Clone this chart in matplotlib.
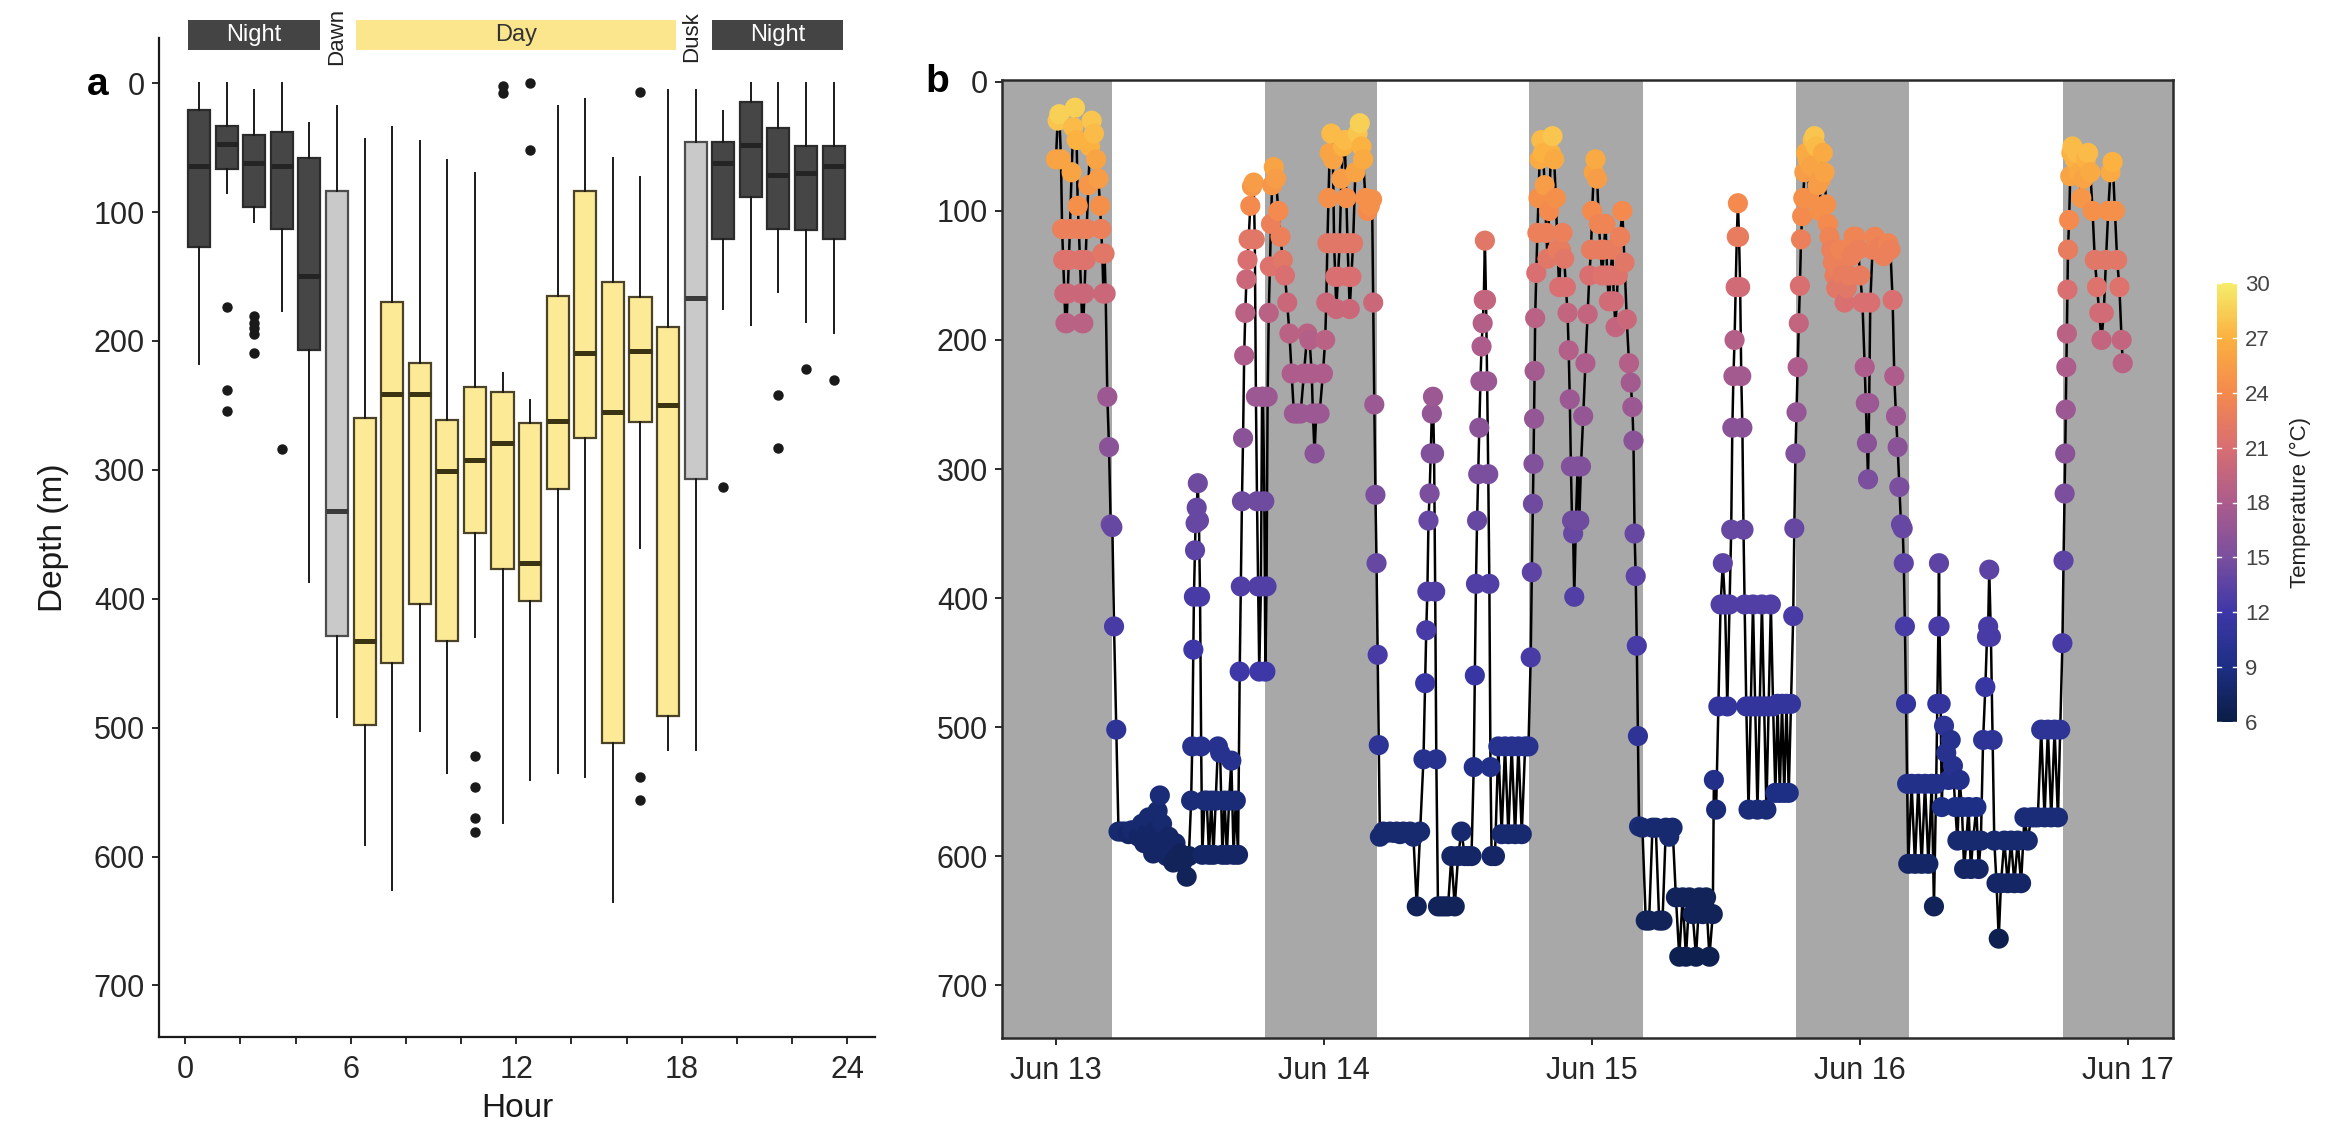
import numpy as np
import matplotlib
matplotlib.use("Agg")
import matplotlib.pyplot as plt
from matplotlib.colors import LinearSegmentedColormap, Normalize
from matplotlib.patches import Rectangle

plt.rcParams['font.family'] = ['Liberation Sans', 'DejaVu Sans']

# ---------------- Panel a data (depth by hour of day, boxplot stats) ----------------
hour_of_day = list(range(24))
period = ['Night'] * 5 + ['Dawn'] + ['Day'] * 12 + ['Dusk'] + ['Night'] * 5
whisker_top = [0, 0, 5, 0, 31, 18, 43, 34, 45, 60, 70, 225, 246, 18, 12, 58, 73, 5, 5, 22, 0, 0, 0, 0]
box_top = [21, 33, 40, 38, 58, 84, 260, 170, 217, 261, 236, 240, 264, 165, 84, 154, 166, 189, 46, 46, 15, 35, 49, 49]
median = [64, 47, 62, 64, 150, 332, 433, 241, 241, 301, 292, 279, 372, 262, 209, 255, 208, 250, 167, 62, 48, 71, 70, 64]
box_bottom = [127, 67, 96, 113, 207, 429, 498, 450, 404, 433, 349, 377, 402, 315, 275, 512, 263, 491, 307, 121, 88, 113, 114, 121]
whisker_bottom = [218, 85, 108, 177, 387, 492, 591, 626, 503, 535, 430, 574, 541, 535, 538, 635, 361, 517, 517, 175, 188, 162, 185, 194]
outliers = {1: [174, 238, 254], 2: [181, 186, 190, 195, 209], 3: [284],
            10: [522, 546, 570, 581], 11: [2, 8], 12: [0, 52],
            16: [7, 538, 556], 19: [313], 21: [242, 283], 22: [222], 23: [230]}
strip_labels = ['Night', 'Dawn', 'Day', 'Dusk', 'Night']

# ---------------- Panel b data (time series, hours since Jun 13 00:00) ----------------
time_h = [
    0.0, 0.15, 0.3, 0.45, 0.55, 0.65, 0.75, 0.85, 0.95, 1.05, 1.15, 1.25, 1.4, 1.55, 1.7, 1.85, 1.95, 2.05, 2.15, 2.25,
    2.35, 2.45, 2.55, 2.65, 2.75, 2.9, 3.05, 3.2, 3.4, 3.6, 3.8, 3.95, 4.05, 4.15, 4.25, 4.35, 4.45, 4.6, 4.75, 4.9,
    5.05, 5.2, 5.4, 5.6,
    5.9, 6.2, 6.5, 6.8, 7.1, 7.4, 7.7, 7.9, 8.1, 8.3, 8.5, 8.7, 8.9, 9.1, 9.3, 9.5, 9.7, 9.9, 10.1, 10.3,
    10.5, 10.7, 10.9, 11.1, 11.3, 11.5, 11.7, 11.9,
    12.1, 12.2, 12.3, 12.35, 12.45, 12.5, 12.6, 12.7, 12.8, 12.9, 13.0, 13.1,
    13.3, 13.5, 13.7, 13.9, 14.1, 14.3, 14.5, 14.7, 14.9, 15.1, 15.3, 15.5, 15.7, 15.9, 16.1, 16.3,
    16.45, 16.55, 16.65, 16.75, 16.85, 16.95, 17.05, 17.15, 17.25, 17.4, 17.55, 17.7, 17.8, 17.9, 18.0, 18.1, 18.2, 18.35, 18.45, 18.55,
    18.65, 18.75, 18.85, 18.95, 19.05, 19.15, 19.25, 19.35, 19.5,
    19.7, 19.9, 20.1, 20.3, 20.5, 20.7, 20.9, 21.1, 21.3, 21.6, 21.9, 22.2, 22.5, 22.7, 22.9, 23.0, 23.15, 23.3, 23.6, 23.9,
    24.1, 24.2,
    24.3, 24.4, 24.5, 24.65, 24.8, 24.9, 25.0, 25.1, 25.25, 25.4, 25.55, 25.7, 25.85, 26.0, 26.1, 26.2, 26.3, 26.45, 26.6, 26.8,
    27.0, 27.2, 27.35, 27.5, 27.7, 27.9, 28.1, 28.3, 28.4, 28.5, 28.6, 28.7, 28.8, 28.9, 29.0,
    29.3, 29.6, 29.9, 30.2, 30.5, 30.8, 31.1, 31.4, 31.7, 32.0, 32.3, 32.6,
    32.9, 33.05, 33.15, 33.25, 33.35, 33.45, 33.55, 33.65, 33.75, 33.85, 33.95, 34.05, 34.2,
    34.5, 34.8, 35.1, 35.4, 35.7, 36.0, 36.3, 36.6, 36.9, 37.2,
    37.4, 37.5, 37.6, 37.7, 37.8, 37.9, 38.0, 38.1, 38.2, 38.3, 38.4, 38.5, 38.6, 38.7, 38.8, 38.9, 39.0,
    39.3, 39.6, 39.9, 40.2, 40.5, 40.8, 41.1, 41.4, 41.7, 42.0, 42.3,
    42.5, 42.6, 42.7, 42.75, 42.8, 42.85, 42.9, 43.0, 43.1, 43.2, 43.3, 43.45, 43.6, 43.75, 43.9, 44.0, 44.15, 44.3, 44.45, 44.6,
    44.75, 44.9, 45.05, 45.2, 45.35, 45.5, 45.65, 45.8, 45.9, 46.0, 46.1, 46.2, 46.3, 46.4, 46.55, 46.7, 46.85, 47.0, 47.2, 47.4,
    47.6, 47.75, 47.9, 48.0, 48.15, 48.3, 48.45, 48.6, 48.75, 48.9, 49.05, 49.2, 49.35, 49.5, 49.65, 49.8, 49.95, 50.1, 50.3, 50.5,
    50.7, 50.9, 51.1, 51.3, 51.45, 51.6, 51.7, 51.8, 51.9, 52.0, 52.1, 52.2,
    52.5, 52.8, 53.1, 53.4, 53.7, 54.0, 54.3, 54.6, 54.9, 55.2, 55.5, 55.8, 56.1, 56.4, 56.7, 57.0, 57.3, 57.6, 57.9, 58.2,
    58.5, 58.8,
    58.9, 59.1, 59.3, 59.5, 59.7, 59.9, 60.1, 60.3, 60.45, 60.55, 60.65, 60.75, 60.85, 60.95, 61.05, 61.15, 61.25, 61.35, 61.45, 61.55,
    61.65, 61.8, 62.0, 62.2, 62.4, 62.6, 62.8, 63.0, 63.2, 63.4, 63.6, 63.8, 64.0, 64.2, 64.4,
    64.6, 64.8, 65.0, 65.2, 65.4, 65.6, 65.8, 66.0, 66.1, 66.2, 66.3, 66.4, 66.5, 66.6, 66.7, 66.8, 66.9, 67.0, 67.15, 67.3,
    67.45, 67.6, 67.75, 67.9, 68.05, 68.2, 68.35, 68.5, 68.65, 68.8, 68.95, 69.1, 69.25, 69.4, 69.55, 69.7, 69.85, 70.0, 70.2, 70.4,
    70.6, 70.8, 71.0, 71.2, 71.4, 71.6, 71.8, 72.0, 72.2, 72.4, 72.5, 72.6, 72.7, 72.8, 72.9, 73.1, 73.3, 73.5, 73.7, 73.9,
    74.1, 74.3, 74.5, 74.7, 74.9, 75.05, 75.2, 75.35, 75.5, 75.65, 75.8, 75.9, 76.0, 76.1, 76.2, 76.3,
    76.6, 76.9, 77.2, 77.5, 77.8, 78.1, 78.4, 78.6, 78.8, 78.9, 79.0, 79.05, 79.1, 79.2, 79.3,
    79.5, 79.7, 79.9, 80.1, 80.3, 80.5, 80.7, 80.9, 81.1, 81.3, 81.5, 81.7, 81.9, 82.1,
    82.4, 82.6, 82.8, 83.0, 83.2, 83.35, 83.45, 83.55, 83.7, 83.85, 84.0, 84.2, 84.4, 84.6, 84.9, 85.2, 85.5, 85.8, 86.1, 86.4,
    86.7, 87.0, 87.3, 87.6, 87.9, 88.2, 88.5, 88.8, 89.1, 89.4, 89.7, 89.9,
    90.1, 90.2, 90.3, 90.35, 90.4, 90.45, 90.5, 90.55, 90.6, 90.7, 90.8, 90.9, 91.0, 91.2, 91.4, 91.6, 91.8, 92.0, 92.2, 92.4,
    92.6, 92.8, 93.0, 93.2, 93.4, 93.6, 93.8, 94.0, 94.2, 94.4, 94.6, 94.8, 95.0, 95.2, 95.4, 95.5,
]
depth_m = [
    60, 30, 25, 60, 114, 138, 164, 187, 187, 164, 138, 114, 70, 35, 20, 45, 96, 114, 138, 164,
    187, 187, 164, 138, 114, 80, 50, 30, 40, 60, 75, 96, 114, 133, 164, 133, 164, 244, 283, 343,
    345, 422, 502, 581,
    581, 581, 583, 580, 581, 585, 575, 590, 583, 570, 590, 598, 580, 565, 553, 575, 590, 600, 585, 595,
    605, 590, 600, 598, 605, 600, 616, 600,
    557, 515, 440, 399, 363, 342, 330, 311, 340, 399, 515, 599,
    557, 557, 599, 557, 599, 557, 515, 520, 599, 557, 599, 557, 526, 599, 557, 599,
    457, 391, 325, 276, 212, 179, 153, 138, 122, 96, 81, 78, 122, 244, 325, 391, 457, 391, 244, 244,
    325, 457, 391, 244, 179, 143, 110, 80, 66,
    75, 100, 120, 138, 150, 171, 195, 226, 257, 257, 257, 226, 195, 200, 226, 257, 288, 257, 257, 226,
    200, 171,
    125, 90, 55, 40, 60, 125, 151, 176, 151, 125, 75, 50, 45, 90, 125, 151, 176, 151, 125, 70,
    40, 32, 50, 60, 90, 100, 96, 91, 171, 250, 320, 373, 444, 514, 585,
    581, 582, 581, 582, 581, 583, 581, 582, 581, 585, 639, 581,
    525, 466, 425, 395, 340, 319, 288, 257, 244, 288, 395, 525, 639,
    639, 639, 639, 600, 639, 600, 581, 600, 600, 600,
    531, 460, 389, 340, 304, 268, 232, 205, 187, 169, 123, 169, 232, 304, 389, 531, 600,
    600, 515, 583, 515, 583, 515, 583, 515, 583, 515, 515,
    446, 380, 327, 296, 261, 224, 183, 148, 117, 90, 60, 45, 55, 80, 117, 137, 100, 55, 42, 60,
    90, 130, 159, 130, 117, 137, 159, 179, 208, 246, 298, 340, 350, 399, 340, 298, 340, 298, 259, 218,
    180, 150, 130, 100, 70, 60, 75, 110, 130, 150, 130, 110, 150, 170, 150, 130, 170, 190, 150, 120,
    100, 140, 184, 218, 233, 252, 278, 350, 383, 437, 507, 577,
    578, 650, 650, 578, 578, 650, 650, 578, 585, 578, 632, 678, 632, 678, 632, 645, 678, 632, 645, 632,
    678, 645,
    541, 564, 484, 405, 373, 405, 484, 405, 347, 268, 228, 200, 159, 120, 94, 120, 159, 228, 268, 347,
    405, 484, 564, 484, 405, 484, 564, 484, 405, 484, 564, 484, 405, 484, 551,
    482, 551, 482, 551, 482, 551, 482, 414, 346, 288, 256, 221, 187, 158, 122, 104, 90, 70, 55, 60,
    90, 65, 45, 42, 50, 80, 100, 75, 55, 70, 95, 110, 120, 130, 140, 150, 160, 145, 130, 150,
    171, 160, 150, 135, 120, 120, 130, 150, 171, 221, 249, 280, 308, 249, 171, 130, 120, 125, 128, 130,
    135, 128, 125, 130, 169, 228, 259, 283, 314, 343, 346, 373, 422, 482, 544, 606,
    544, 606, 544, 606, 544, 606, 544, 639, 544, 482, 422, 373, 422, 482, 562,
    499, 520, 541, 510, 530, 562, 588, 541, 562, 610, 588, 562, 610, 588,
    562, 610, 588, 510, 469, 430, 422, 378, 430, 510, 588, 621, 664, 621, 588, 621, 588, 621, 588, 621,
    570, 588, 570, 570, 570, 502, 570, 502, 570, 502, 570, 502,
    435, 371, 319, 288, 254, 221, 195, 161, 130, 107, 73, 55, 50, 60, 55, 70, 90, 75, 60, 55,
    70, 100, 138, 159, 179, 200, 179, 138, 100, 70, 62, 100, 138, 159, 200, 218,
]
temp_c = [
    26, 28, 28.5, 26, 23, 21.5, 20, 19, 19, 20, 21.5, 23, 26, 27.5, 28.5, 27, 24.5, 23, 21.5, 20,
    19, 19, 20, 21.5, 23, 25, 27, 28, 27.5, 26, 25.5, 24.5, 23, 22, 20, 22, 20, 17, 16, 14.5,
    14, 12.5, 10.5, 8,
    8, 8, 7.5, 8, 8, 7.5, 8, 7.5, 7.5, 8, 7.5, 7.5, 7.5, 8, 8.5, 8, 7.5, 7.5, 7.5, 7.5,
    7, 7.5, 7, 7, 7, 7, 7, 7,
    8.5, 10, 12, 12.5, 13.5, 14, 14, 14.5, 14, 12.5, 10, 7.5,
    8.5, 8.5, 7.5, 8.5, 7.5, 8.5, 10, 10, 7.5, 8.5, 7.5, 8.5, 10, 7.5, 8.5, 7.5,
    12, 13, 14.5, 16, 18, 19, 20, 21, 22, 24, 25, 25.5, 22, 17, 14.5, 13, 12, 13, 17, 17,
    14.5, 12, 13, 17, 19, 21.5, 23, 25, 26,
    25.5, 24, 23, 22, 21, 20, 19, 18, 17, 17, 17, 18, 19, 18.5, 18, 17, 16, 17, 17, 18,
    19, 20,
    22, 24.5, 26, 27.5, 26, 22, 21, 20, 21, 22, 25.5, 27, 27.5, 24.5, 22, 21, 20, 21, 22, 26,
    28, 28.5, 27, 26.5, 24.5, 24, 24.5, 24.5, 20, 17, 15, 14, 12.5, 10.5, 8,
    8, 8, 8, 8, 8, 8, 8, 8, 8, 8, 7, 8,
    10, 11.5, 12.5, 13, 14, 15, 15.5, 16.5, 17, 15.5, 13, 10, 7,
    7, 7, 7, 7.5, 7, 7.5, 8, 7.5, 7.5, 7.5,
    9.5, 11.5, 13, 14, 15, 16, 17, 18, 18.5, 19.5, 22, 19.5, 17, 15, 13, 9.5, 7.5,
    7.5, 10, 8, 10, 8, 10, 8, 10, 8, 10, 10,
    12.5, 13.5, 14.5, 15.5, 16.5, 17.5, 19, 21, 23, 24.5, 26.5, 27.5, 27, 25.5, 23, 22, 24, 27, 28, 26.5,
    24.5, 22.5, 21, 22.5, 23, 22, 21, 19.5, 18.5, 17, 15.5, 14.5, 14, 13, 14.5, 15.5, 14.5, 15.5, 16.5, 18,
    19.5, 21, 22.5, 24, 26, 26.5, 25.5, 23.5, 22.5, 21.5, 22.5, 23.5, 21.5, 20.5, 21.5, 22.5, 20.5, 19.5, 21.5, 23,
    24, 22, 20, 18.5, 17.5, 17, 16, 14, 13.5, 12.5, 10.5, 8.5,
    8, 7, 7, 8, 8, 7, 7, 8, 8, 8, 7, 6.5, 7, 6.5, 7, 7, 6.5, 7, 7, 7,
    6.5, 7,
    9.5, 8.5, 11, 13, 13.5, 13, 11, 13, 14, 16, 17.5, 18.5, 20.5, 22.5, 24, 22.5, 20.5, 17.5, 16, 14,
    13, 11, 8.5, 11, 13, 11, 8.5, 11, 13, 11, 8.5, 11, 13, 11, 9,
    11, 9, 11, 9, 11, 9, 11, 12.5, 14, 15.5, 16.5, 18, 19.5, 21, 23, 24, 24.5, 25.5, 26.5, 26.5,
    24.5, 26, 27.5, 28, 27.5, 25.5, 24.5, 25.5, 26.5, 26, 24.5, 24, 23.5, 23, 23, 22.5, 22, 23, 23.5, 22.5,
    21, 22, 22.5, 23, 23.5, 23.5, 23, 22.5, 21, 18, 17, 16, 15, 17, 21, 23, 23.5, 23.5, 23, 23,
    23, 23, 23.5, 23, 21, 18, 17, 16, 15, 14, 14, 13.5, 12.5, 11, 9.5, 7.5,
    9.5, 7.5, 9.5, 7.5, 9.5, 7.5, 9.5, 7, 9.5, 11, 12.5, 13.5, 12.5, 11, 9,
    10.5, 10, 9.5, 10, 10, 9, 8, 9.5, 9, 7.5, 8, 9, 7.5, 8,
    9, 7.5, 8, 10.5, 11.5, 12.5, 12.5, 13.5, 12.5, 10.5, 8, 7.5, 6.5, 7.5, 8, 7.5, 8, 7.5, 8, 7.5,
    8.5, 8, 8.5, 8.5, 8.5, 10.5, 8.5, 10.5, 8.5, 10.5, 8.5, 10.5,
    12.5, 13.5, 15, 16, 17, 18, 19, 21, 22.5, 24, 26, 27, 27.5, 27, 27.5, 26.5, 25, 26, 27, 27.5,
    26.5, 24.5, 22, 21.5, 20.5, 19.5, 20.5, 22, 24.5, 26.5, 27, 24.5, 22, 21.5, 19.5, 19,
]
# night periods (hours since Jun 13 00:00)
night_start = [-6.0, 18.7, 42.35, 66.25, 90.15]
night_end = [5.0, 28.7, 52.55, 76.4, 102.0]
date_ticks = [0, 24, 48, 72, 96]
date_labels = ['Jun 13', 'Jun 14', 'Jun 15', 'Jun 16', 'Jun 17']
temp_ticks = [6, 9, 12, 15, 18, 21, 24, 27, 30]

assert len(time_h) == len(depth_m) == len(temp_c), (len(time_h), len(depth_m), len(temp_c))

# ---------------- Figure ----------------
W, H = 2339, 1139
fig = plt.figure(figsize=(W / 100, H / 100), dpi=100)


def frac_box(l, t, r, b):
    return [l / W, 1 - b / H, (r - l) / W, (b - t) / H]


ax_a = fig.add_axes(frac_box(159, 38, 875, 1037))
ax_b = fig.add_axes(frac_box(1002, 80, 2173, 1038))
cax = fig.add_axes(frac_box(2217, 283, 2237, 722))

TICK_FS = 22
LAB_FS = 24
TXT = '#262626'

# ---------------- Panel a ----------------
stats = []
for i in hour_of_day:
    stats.append(dict(med=median[i], q1=box_top[i], q3=box_bottom[i],
                      whislo=whisker_top[i], whishi=whisker_bottom[i],
                      fliers=outliers.get(i, [])))
res = ax_a.bxp(stats, positions=np.array(hour_of_day) + 0.5, widths=0.8,
               patch_artist=True, showcaps=False, showfliers=True,
               whiskerprops=dict(linewidth=1.4, color='#1a1a1a'),
               medianprops=dict(linewidth=3.6),
               flierprops=dict(marker='o', markersize=6.5, markerfacecolor='#1a1a1a',
                               markeredgecolor='#1a1a1a', linestyle='none'),
               manage_ticks=False)
fills = {'Night': '#464646', 'Dawn': '#C9C9C9', 'Dusk': '#C9C9C9', 'Day': '#FDEA96'}
edges = {'Night': '#2b2b2b', 'Dawn': '#4d4d4d', 'Dusk': '#4d4d4d', 'Day': '#4a4328'}
meds = {'Night': '#242424', 'Dawn': '#3a3a3a', 'Dusk': '#3a3a3a', 'Day': '#3b3412'}
for box, med, p in zip(res['boxes'], res['medians'], period):
    box.set_facecolor(fills[p])
    box.set_edgecolor(edges[p])
    box.set_linewidth(1.6)
    med.set_color(meds[p])

ax_a.set_xlim(-0.95, 25.0)
ax_a.set_ylim(740, -35)
ax_a.set_xticks(np.arange(0, 25, 2))
ax_a.set_xticklabels([str(h) if h % 6 == 0 else '' for h in range(0, 25, 2)])
ax_a.set_yticks(np.arange(0, 701, 100))
for s in ['top', 'right']:
    ax_a.spines[s].set_visible(False)
for s in ['left', 'bottom']:
    ax_a.spines[s].set_linewidth(1.6)
    ax_a.spines[s].set_color('#1a1a1a')
ax_a.tick_params(labelsize=TICK_FS, length=5, width=1.3, colors='#1a1a1a', labelcolor=TXT, pad=5)
ax_a.tick_params(axis='x', pad=8)
ax_a.set_xlabel('Hour', fontsize=LAB_FS, color='#1a1a1a', labelpad=6)
ax_a.set_ylabel('Depth (m)', fontsize=LAB_FS, color='#1a1a1a', labelpad=18)

# header strips
strip_y0, strip_h = -48.8, 23.2
strip_spans = {0: (0.1, 4.9), 2: (6.2, 17.8), 4: (19.1, 23.85)}
for k, lab in enumerate(strip_labels):
    if k in strip_spans:
        x0, x1 = strip_spans[k]
        col = '#FBE68E' if lab == 'Day' else '#444444'
        ax_a.add_patch(Rectangle((x0, strip_y0), x1 - x0, strip_h, facecolor=col,
                                 edgecolor='none', clip_on=False, zorder=5))
        ax_a.text((x0 + x1) / 2, strip_y0 + strip_h / 2, lab, ha='center', va='center',
                  fontsize=17, color='white' if lab == 'Night' else '#333333',
                  clip_on=False, zorder=6)
    else:
        xc = 5.5 if lab == 'Dawn' else 18.35
        ax_a.text(xc, -36, lab, rotation=90, ha='center', va='center', fontsize=16,
                  color='#222222', clip_on=False, zorder=6)

# ---------------- Panel b ----------------
cmap = LinearSegmentedColormap.from_list('thermal_like', [
    (0.000, '#0b1d45'), (0.125, '#1d2f84'), (0.250, '#3e37a8'), (0.375, '#7a4f9e'),
    (0.500, '#ac5c8c'), (0.625, '#d86e72'), (0.750, '#f4894e'), (0.875, '#fbb040'),
    (1.000, '#f5ed6a')])
norm = Normalize(6, 30)

for s0, s1 in zip(night_start, night_end):
    ax_b.axvspan(s0, s1, facecolor='#A8A8A8', edgecolor='none', zorder=0)
ax_b.plot(time_h, depth_m, color='black', linewidth=1.8, zorder=2)
sc = ax_b.scatter(time_h, depth_m, c=temp_c, cmap=cmap, norm=norm, s=210,
                  edgecolors='none', zorder=3)
ax_b.set_xlim(-4.83, 100.0)
ax_b.set_ylim(741, -1.5)
ax_b.set_yticks(np.arange(0, 701, 100))
ax_b.set_xticks(date_ticks)
ax_b.set_xticklabels(date_labels)
for s in ax_b.spines.values():
    s.set_linewidth(1.8)
    s.set_color('#2a2a2a')
ax_b.tick_params(labelsize=TICK_FS, length=5, width=1.3, colors='#1a1a1a', labelcolor=TXT, pad=5)
ax_b.tick_params(axis='x', pad=8)

# colorbar
cb = fig.colorbar(sc, cax=cax, ticks=temp_ticks)
cb.outline.set_visible(False)
cax.tick_params(length=0, labelsize=16, labelcolor='#444444', pad=6)
for v in temp_ticks:
    cax.axhline(v, xmin=0, xmax=0.22, color='white', linewidth=1.0)
    cax.axhline(v, xmin=0.78, xmax=1, color='white', linewidth=1.0)
cb.set_label('Temperature (°C)', fontsize=16, color='#222222', labelpad=14)

# panel letters
fig.text(98 / W, 1 - 85 / H, 'a', fontsize=28, fontweight='bold', ha='center', va='center')
fig.text(937 / W, 1 - 82 / H, 'b', fontsize=28, fontweight='bold', ha='center', va='center')

fig.savefig('out.png', dpi=100)
